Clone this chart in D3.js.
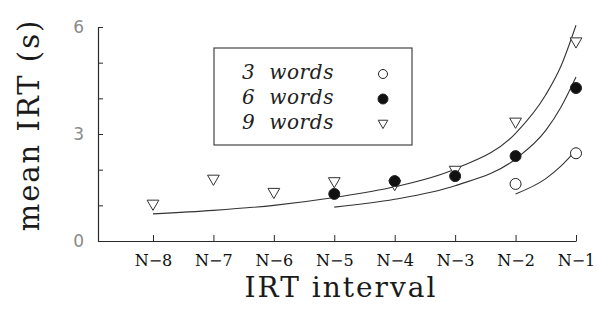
<!DOCTYPE html>
<html>
<head>
<meta charset="utf-8">
<script src="https://cdn.jsdelivr.net/npm/d3@7"></script>
<style>
  body { margin: 0; background: #fff; }
</style>
</head>
<body>
<div id="chart"></div>
<script>
// categories: IRT interval positions (N-k)
var positions = [-8, -7, -6, -5, -4, -3, -2, -1];
var categories = ['N\u22128', 'N\u22127', 'N\u22126', 'N\u22125', 'N\u22124', 'N\u22123', 'N\u22122', 'N\u22121'];
var yTicks = [0, 3, 6];

// observed mean IRT (s)
var words9 = [1.05, 1.75, 1.38, 1.68, 1.6, 2.0, 3.35, 5.6];
var words6 = [null, null, null, 1.32, 1.68, 1.82, 2.38, 4.29];
var words3 = [null, null, null, null, null, null, 1.6, 2.46];

// fitted curves: [position, value]
var fit9 = [[-8, 0.76], [-7, 0.86], [-6, 1.0], [-5, 1.22], [-4, 1.52], [-3, 2.02], [-2, 3.02], [-1.5, 4.1], [-1.25, 4.9], [-1, 6.05]];
var fit6 = [[-5, 0.95], [-4, 1.17], [-3, 1.55], [-2, 2.3], [-1.5, 3.1], [-1.25, 3.75], [-1, 4.6]];
var fit3 = [[-2, 1.32], [-1.5, 1.75], [-1.25, 2.1], [-1.05, 2.45]];

var legendKeys = ['3 words', '6 words', '9 words'];

var width = 597, height = 327;

var svg = d3.select('#chart')
    .append('svg')
    .attr('width', width)
    .attr('height', height);

var x = d3.scaleLinear().domain([-8.91, -1]).range([98, 576]);
var y = d3.scaleLinear().domain([0, 6]).range([241, 27]);

var ink = '#2a2a2a';

// X axis
var xAxis = d3.axisBottom(x)
    .tickValues(positions)
    .tickFormat((d, i) => categories[i])
    .tickSizeInner(-6)
    .tickSizeOuter(0)
    .tickPadding(14);

var gx = svg.append('g')
    .attr('transform', `translate(0,${y(0)})`)
    .call(xAxis);
gx.select('.domain').attr('stroke', ink).attr('stroke-width', 1.2);
gx.selectAll('.tick line').attr('stroke', ink);
gx.selectAll('.tick text')
    .attr('fill', '#111')
    .attr('font-family', '"DejaVu Serif", serif')
    .attr('font-size', 16);

// Y axis
var yAxis = d3.axisLeft(y)
    .tickValues(d3.range(0, 7, 1))
    .tickFormat(d => yTicks.indexOf(d) >= 0 ? d : '')
    .tickSizeInner(-5)
    .tickSizeOuter(0)
    .tickPadding(14);

var gy = svg.append('g')
    .attr('transform', `translate(${x(-8.91)},0)`)
    .call(yAxis);
gy.select('.domain').attr('stroke', ink).attr('stroke-width', 1.2);
gy.selectAll('.tick line').attr('stroke', ink);
gy.selectAll('.tick text')
    .attr('fill', '#8a8a8a')
    .attr('font-family', '"DejaVu Sans", sans-serif')
    .attr('font-size', 17);

// axis titles
svg.append('text')
    .attr('transform', 'translate(39,125) rotate(-90)')
    .attr('text-anchor', 'middle')
    .attr('font-family', '"DejaVu Serif", serif')
    .attr('font-size', 29)
    .attr('letter-spacing', 2)
    .attr('fill', '#1a1a1a')
    .text('mean IRT (s)');

svg.append('text')
    .attr('x', 341)
    .attr('y', 297)
    .attr('text-anchor', 'middle')
    .attr('font-family', '"DejaVu Serif", serif')
    .attr('font-size', 28)
    .attr('letter-spacing', 2)
    .attr('fill', '#1a1a1a')
    .text('IRT interval');

// fitted curves
var line = d3.line()
    .x(d => x(d[0]))
    .y(d => y(d[1]))
    .curve(d3.curveMonotoneX);

[fit9, fit6, fit3].forEach(f => {
    svg.append('path')
        .attr('d', line(f))
        .attr('fill', 'none')
        .attr('stroke', '#333')
        .attr('stroke-width', 1.1);
});

// markers
var tri = d3.symbol().type(d3.symbolTriangle).size(60);

function drawTriangles(values) {
    svg.selectAll(null)
        .data(values.map((v, i) => [positions[i], v]).filter(d => d[1] != null))
        .enter()
        .append('path')
        .attr('d', tri)
        .attr('transform', d => `translate(${x(d[0])},${y(d[1])}) rotate(180)`)
        .attr('fill', '#fff')
        .attr('stroke', '#333')
        .attr('stroke-width', 1);
}

function drawCircles(values, filled) {
    svg.selectAll(null)
        .data(values.map((v, i) => [positions[i], v]).filter(d => d[1] != null))
        .enter()
        .append('circle')
        .attr('cx', d => x(d[0]))
        .attr('cy', d => y(d[1]))
        .attr('r', 5.5)
        .attr('fill', filled ? '#111' : '#fff')
        .attr('stroke', '#222')
        .attr('stroke-width', 1);
}

drawTriangles(words9);
drawCircles(words6, true);
drawCircles(words3, false);

// legend
var legend = svg.append('g').attr('transform', 'translate(214,48)');
legend.append('rect')
    .attr('width', 198)
    .attr('height', 97)
    .attr('fill', '#fff')
    .attr('stroke', '#333')
    .attr('stroke-width', 1.1);

legend.selectAll('text')
    .data(legendKeys)
    .enter()
    .append('text')
    .attr('x', 28)
    .attr('y', (d, i) => 31 + i * 25)
    .attr('font-family', '"DejaVu Serif", serif')
    .attr('font-style', 'italic')
    .attr('font-size', 20)
    .attr('letter-spacing', 0.6)
    .attr('fill', '#222')
    .style('white-space', 'pre')
    .text(d => d.replace(' ', '  '));

legend.append('circle')
    .attr('cx', 169).attr('cy', 26).attr('r', 4.5)
    .attr('fill', '#fff').attr('stroke', '#222');
legend.append('circle')
    .attr('cx', 169).attr('cy', 51).attr('r', 5)
    .attr('fill', '#111').attr('stroke', '#222');
legend.append('path')
    .attr('d', d3.symbol().type(d3.symbolTriangle).size(40))
    .attr('transform', 'translate(169,75) rotate(180)')
    .attr('fill', '#fff')
    .attr('stroke', '#333');
</script>
</body>
</html>
